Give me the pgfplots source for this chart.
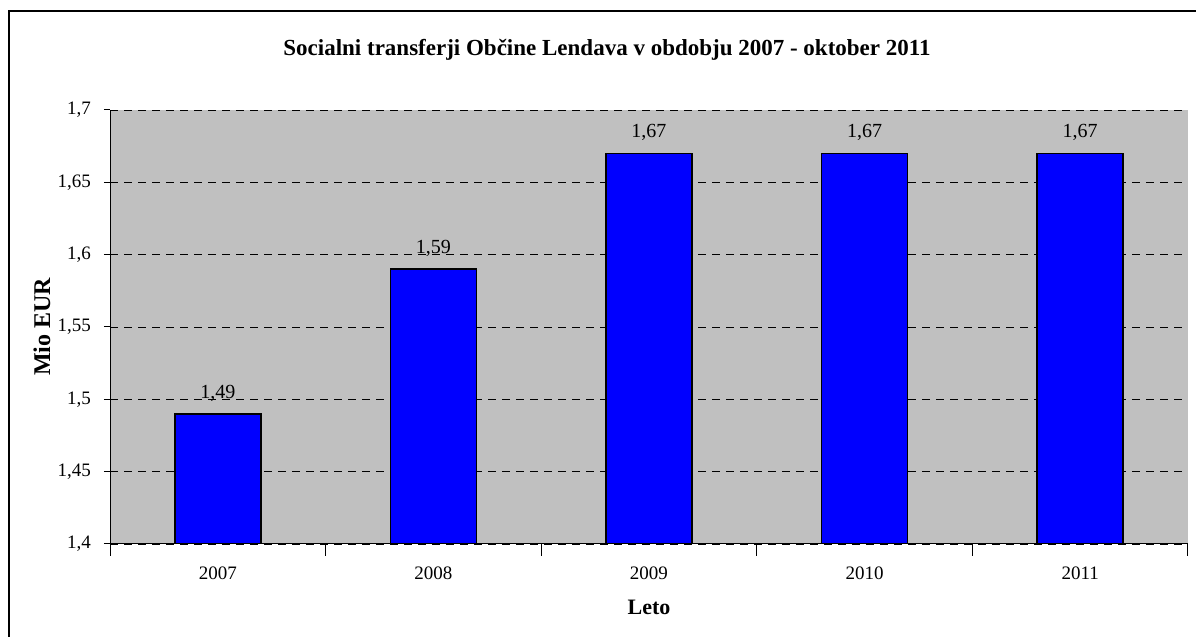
\documentclass[border=0pt]{standalone}
\usepackage{pgfplots}
\pgfplotsset{compat=1.18}
\usepackage{fontspec}
\setmainfont{Liberation Serif}
\definecolor{plotgray}{HTML}{C0C0C0}
\definecolor{barblue}{HTML}{0000FF}
\begin{document}
\begin{tikzpicture}
\useasboundingbox (0,0) rectangle (598pt,318.5pt);
\draw[line width=1pt] (4.5pt,-2pt) -- (4.5pt,313pt) -- (600pt,313pt);
\node[font=\fontsize{11.5}{13}\selectfont\bfseries] at (303.5pt,293.5pt) {Socialni transferji Občine Lendava v obdobju 2007 - oktober 2011};
\node[font=\fontsize{12}{14}\selectfont\bfseries, rotate=90] at (21pt,155pt) {Mio EUR};
\node[font=\fontsize{11}{13}\selectfont\bfseries] at (324.5pt,15pt) {Leto};
\begin{axis}[
  at={(55pt,46.5pt)}, anchor=south west,
  scale only axis, width=539pt, height=217pt,
  axis background/.style={fill=plotgray},
  axis x line*=bottom, axis y line*=left,
  axis line style={black, line width=0.5pt, -},
  xmin=-0.5, xmax=4.5, ymin=1.4, ymax=1.7,
  xtick={0,1,2,3,4},
  xticklabels={2007,2008,2009,2010,2011},
  minor xtick={-0.5,0.5,1.5,2.5,3.5,4.5},
  major x tick style={draw=none},
  minor tick length=6pt,
  ytick={1.4,1.45,1.5,1.55,1.6,1.65,1.7},
  major tick length=3pt,
  tick align=outside,
  tick style={black, line width=0.5pt},
  ymajorgrids, grid style={black, dashed, dash pattern=on 4pt off 3pt, line width=0.4pt},
  /pgf/number format/.cd, use comma, fixed, precision=2, assume math mode=true,
  /pgfplots/.cd,
  ticklabel style={font=\fontsize{9.5}{11}\selectfont},
  xticklabel style={yshift=-5pt},
  yticklabel style={xshift=-3pt},
  ybar, bar width=43pt,
  nodes near coords,
  every node near coord/.append style={font=\fontsize{10}{12}\selectfont, yshift=2.5pt},
]
\addplot[fill=barblue, draw=black, line width=0.8pt] coordinates {(0,1.49) (1,1.59) (2,1.67) (3,1.67) (4,1.67)};
\end{axis}
\end{tikzpicture}
\end{document}
